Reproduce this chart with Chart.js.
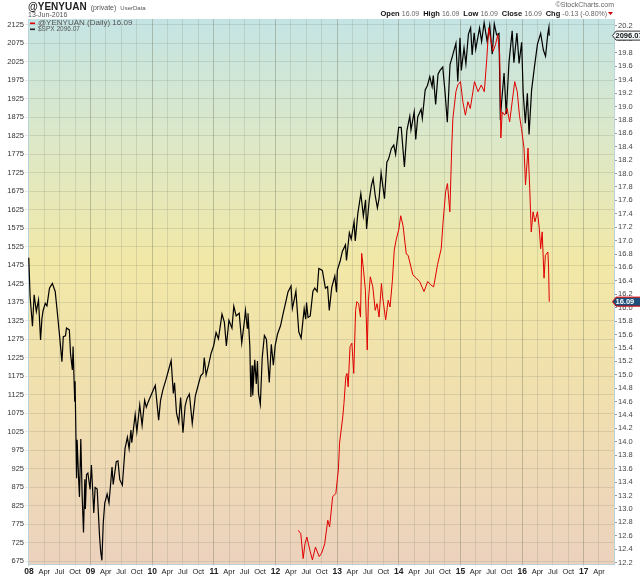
<!DOCTYPE html>
<html><head><meta charset="utf-8">
<script src="https://cdn.jsdelivr.net/npm/chart.js@4.4.0/dist/chart.umd.min.js"></script>
<style>html,body{margin:0;padding:0;background:#fff}canvas{display:block}</style>
</head><body>
<canvas id="c" width="640" height="576"></canvas>
<script>
// ---- DATA ----
const spxDates = [
'2007-12-31','2008-01-08','2008-01-22','2008-02-01','2008-02-14','2008-02-27','2008-03-10','2008-03-18','2008-03-25','2008-04-07','2008-04-17','2008-05-02','2008-05-19','2008-06-05','2008-06-17','2008-07-01','2008-07-15','2008-07-23','2008-08-05','2008-08-11','2008-08-28','2008-09-04','2008-09-15','2008-09-19','2008-09-29','2008-10-01','2008-10-10','2008-10-13','2008-10-22','2008-10-27','2008-11-04','2008-11-12','2008-11-20','2008-11-28','2008-12-01','2008-12-08','2008-12-16','2008-12-29',
'2009-01-06','2009-01-20','2009-01-28','2009-02-09','2009-02-23','2009-03-02','2009-03-09','2009-03-17','2009-03-26','2009-04-09','2009-04-20','2009-05-04','2009-05-08','2009-05-15','2009-06-02','2009-06-12','2009-06-23','2009-07-08','2009-07-24','2009-08-07','2009-08-17','2009-08-28','2009-09-02','2009-09-22','2009-10-02','2009-10-19','2009-11-02','2009-11-17','2009-11-27','2009-12-07','2009-12-28',
'2010-01-19','2010-02-08','2010-02-19','2010-03-05','2010-03-24','2010-04-05','2010-04-23','2010-05-06','2010-05-13','2010-05-25','2010-06-07','2010-06-18','2010-07-02','2010-07-15','2010-07-26','2010-08-09','2010-08-26','2010-09-13','2010-09-28','2010-10-15','2010-10-29','2010-11-05','2010-11-16','2010-12-01','2010-12-15','2010-12-31',
'2011-01-14','2011-01-28','2011-02-18','2011-03-04','2011-03-16','2011-03-31','2011-04-18','2011-04-29','2011-05-13','2011-05-31','2011-06-15','2011-06-30','2011-07-07','2011-07-18','2011-07-22','2011-08-02','2011-08-08','2011-08-15','2011-08-19','2011-08-31','2011-09-09','2011-09-16','2011-09-22','2011-10-03','2011-10-14','2011-10-27','2011-11-08','2011-11-25','2011-12-07','2011-12-19','2011-12-30',
'2012-01-13','2012-01-31','2012-02-15','2012-03-01','2012-03-15','2012-04-02','2012-04-10','2012-04-20','2012-05-01','2012-05-18','2012-06-01','2012-06-19','2012-06-28','2012-07-03','2012-07-12','2012-07-25','2012-08-10','2012-08-21','2012-09-04','2012-09-14','2012-10-05','2012-10-23','2012-11-05','2012-11-15','2012-11-30','2012-12-18','2012-12-28',
'2013-01-02','2013-01-18','2013-02-01','2013-02-19','2013-02-25','2013-03-14','2013-03-25','2013-04-11','2013-04-18','2013-05-03','2013-05-21','2013-06-05','2013-06-18','2013-06-24','2013-07-10','2013-07-23','2013-08-02','2013-08-15','2013-08-27','2013-09-06','2013-09-18','2013-10-08','2013-10-22','2013-11-01','2013-11-18','2013-12-02','2013-12-13','2013-12-31',
'2014-01-15','2014-02-03','2014-02-18','2014-03-07','2014-03-14','2014-04-02','2014-04-11','2014-04-23','2014-05-13','2014-05-20','2014-06-06','2014-06-20','2014-07-03','2014-07-17','2014-07-24','2014-08-07','2014-08-21','2014-09-02','2014-09-18','2014-10-01','2014-10-15','2014-10-31','2014-11-14','2014-12-05','2014-12-16','2014-12-29',
'2015-01-06','2015-01-22','2015-02-02','2015-02-17','2015-03-02','2015-03-11','2015-03-23','2015-04-01','2015-04-24','2015-05-06','2015-05-21','2015-06-08','2015-06-23','2015-07-08','2015-07-20','2015-08-03','2015-08-17','2015-08-25','2015-09-01','2015-09-16','2015-09-29','2015-10-15','2015-11-03','2015-11-13','2015-12-01','2015-12-14','2015-12-29',
'2016-01-07','2016-01-20','2016-02-01','2016-02-11','2016-02-26','2016-03-15','2016-04-01','2016-04-20','2016-05-06','2016-05-19','2016-06-01','2016-06-08','2016-06-10'];
const spxValues = [
1495,1390,1310,1395,1350,1381,1273,1330,1352,1372,1365,1413,1426,1404,1350,1284,1214,1282,1284,1305,1300,1236,1192,1255,1106,1161,899,1003,896,848,1005,852,752,896,816,909,913,869,
935,805,874,870,743,700,677,778,832,856,832,907,929,882,944,946,895,880,979,1010,979,1029,995,1071,1025,1097,1042,1110,1091,1104,1127,
1150,1056,1109,1138,1167,1187,1217,1128,1157,1074,1050,1117,1022,1095,1115,1127,1047,1121,1147,1176,1183,1225,1178,1206,1236,1258,
1293,1276,1343,1321,1257,1326,1305,1364,1338,1345,1265,1321,1353,1305,1345,1254,1119,1204,1123,1219,1154,1216,1129,1099,1224,1285,1275,1158,1261,1205,1258,
1289,1312,1344,1374,1403,1419,1358,1379,1405,1295,1278,1357,1329,1374,1334,1338,1405,1413,1404,1466,1461,1413,1417,1353,1416,1446,1402,
1462,1485,1513,1530,1488,1563,1546,1593,1541,1614,1669,1608,1652,1573,1652,1692,1709,1661,1630,1655,1725,1655,1754,1762,1791,1800,1775,1848,
1848,1741,1840,1878,1841,1890,1815,1876,1897,1872,1949,1962,1985,1958,1988,1910,1992,2002,2011,1946,1862,2018,2040,2075,1972,2090,
2002,2063,2020,2100,2117,2044,2104,2059,2117,2080,2131,2080,2124,2046,2128,2098,2102,1868,1914,1995,1884,2023,2109,2023,2103,2021,2078,
1943,1859,1940,1829,1948,2015,2073,2102,2057,2040,2100,2119,2096.07];

const yyDates = [
'2012-05-15','2012-05-30','2012-06-13','2012-06-24','2012-07-05','2012-07-23','2012-08-07','2012-08-25','2012-09-16','2012-10-01','2012-10-19','2012-11-06','2012-11-17','2012-12-05','2012-12-24',
'2013-01-08','2013-01-15','2013-02-03','2013-02-10','2013-02-21','2013-02-28','2013-03-07','2013-03-18','2013-03-29','2013-04-09','2013-04-20','2013-04-27','2013-05-08','2013-05-19','2013-05-26','2013-06-06','2013-06-17','2013-06-28','2013-07-05','2013-07-16','2013-07-31','2013-08-14','2013-08-25','2013-09-06','2013-09-20','2013-09-27','2013-10-15','2013-10-30','2013-11-10','2013-11-24','2013-12-05','2013-12-16',
'2014-01-01','2014-01-12','2014-01-26','2014-02-14','2014-02-25','2014-03-25','2014-04-15','2014-05-04','2014-05-30','2014-06-21','2014-07-09','2014-07-26','2014-08-18','2014-09-09','2014-09-20','2014-10-05','2014-10-16','2014-10-30','2014-11-10','2014-11-17','2014-12-05','2014-12-16',
'2015-01-01','2015-01-15','2015-01-30','2015-02-14','2015-02-28','2015-03-25','2015-04-15','2015-05-04','2015-05-22','2015-06-06','2015-06-17','2015-07-01','2015-07-13','2015-07-27','2015-08-10','2015-08-21','2015-08-28','2015-09-05','2015-09-20','2015-10-04','2015-10-19','2015-11-03','2015-11-18','2015-12-03','2015-12-16','2015-12-28',
'2016-01-12','2016-01-21','2016-02-05','2016-02-15','2016-02-24','2016-03-06','2016-03-17','2016-04-01','2016-04-12','2016-04-20','2016-04-29','2016-05-10','2016-05-18','2016-06-02','2016-06-06','2016-06-10'];
const yyValues = [
12.68,12.63,12.26,12.48,12.58,12.38,12.24,12.43,12.29,12.34,12.48,12.83,12.73,13.18,13.23,
13.58,13.98,14.37,14.57,14.97,15.02,14.82,15.42,15.47,15.02,15.96,16.09,16.06,15.86,16.81,16.56,16.26,15.37,16.11,16.46,16.31,15.96,16.06,15.86,16.36,16.16,15.82,16.11,16.01,16.41,16.86,17.01,
17.17,17.37,17.22,16.80,16.78,16.49,16.44,16.39,16.24,16.39,16.34,16.31,16.64,16.88,17.28,17.73,17.85,17.43,18.38,18.82,19.22,19.32,
19.37,19.07,18.87,19.07,18.97,19.37,19.22,19.32,19.22,19.72,20.17,19.97,19.82,19.92,20.07,19.77,18.53,18.92,18.87,18.97,18.77,19.07,19.37,19.22,18.87,18.67,
18.38,17.83,18.38,17.78,17.13,17.43,17.28,17.43,17.18,16.88,17.13,16.44,16.78,16.83,16.59,16.09];

const monthLabels = ['', 'Apr', 'Jul', 'Oct'];
const tickYears = [2008,2009,2010,2011,2012,2013,2014,2015,2016,2017];
const headerStats = [['Open','16.09'],['High','16.09'],['Low','16.09'],['Close','16.09'],['Chg','-0.13 (-0.80%)']];

// ---- helpers ----
function toYear(s){
  const d = Date.parse(s+'T00:00:00Z');
  const y = +s.slice(0,4);
  const a = Date.UTC(y,0,1), b = Date.UTC(y+1,0,1);
  return y + (d-a)/(b-a);
}
const X_MIN = 2007.985, X_MAX = 2017.49;
const quarterTicks = [];
tickYears.forEach(y=>{ [1,4,7,10].forEach(m=>{ const v=toYear(y+'-'+String(m).padStart(2,'0')+'-01'); if(v<X_MAX) quarterTicks.push(v); }); });

const FONT = "'Liberation Sans', Arial, sans-serif";

const bgPlugin = {
  id:'bg',
  beforeDraw(chart){
    const {ctx, chartArea:a} = chart;
    ctx.save();
    ctx.fillStyle='#fff'; ctx.fillRect(0,0,chart.width,chart.height);
    const g = ctx.createLinearGradient(0,a.top,0,a.bottom);
    g.addColorStop(0,'rgb(196,228,228)');
    g.addColorStop(0.22,'rgb(220,232,200)');
    g.addColorStop(0.45,'rgb(242,232,166)');
    g.addColorStop(0.72,'rgb(240,222,176)');
    g.addColorStop(1,'rgb(236,210,190)');
    ctx.fillStyle=g; ctx.fillRect(a.left,a.top,a.right-a.left,a.bottom-a.top);
    ctx.restore();
  }
};

const textPlugin = {
  id:'texts',
  afterDraw(chart){
    const {ctx} = chart;
    ctx.save();
    ctx.textBaseline='alphabetic';
    // title
    ctx.fillStyle='#222'; ctx.font='bold 10px '+FONT; ctx.textAlign='left';
    ctx.fillText('@YENYUAN', 28, 10);
    let w = ctx.measureText('@YENYUAN').width;
    ctx.fillStyle='#555'; ctx.font='7px '+FONT;
    ctx.fillText('(private)', 28+w+4, 10);
    let w2 = ctx.measureText('(private)').width;
    ctx.font='6px '+FONT; ctx.fillText('UserData', 28+w+4+w2+4, 10);
    ctx.font='7px '+FONT; ctx.fillStyle='#555';
    ctx.fillText('13-Jun-2016', 28, 17);
    // StockCharts
    ctx.textAlign='right'; ctx.fillStyle='#666'; ctx.font='7px '+FONT;
    ctx.fillText('\u00A9StockCharts.com', 614, 7);
    // stats line
    const parts=[];
    headerStats.forEach(([k,v])=>{ parts.push(['bold 7.5px '+FONT,'#111',k+' ']); parts.push(['7px '+FONT,'#666',v+'  ']); });
    let total=0; parts.forEach(p=>{ctx.font=p[0]; total+=ctx.measureText(p[2]).width;});
    let x = 611-total; ctx.textAlign='left';
    parts.forEach(p=>{ctx.font=p[0]; ctx.fillStyle=p[1]; ctx.fillText(p[2],x,16); x+=ctx.measureText(p[2]).width;});
    ctx.fillStyle='#c00'; ctx.beginPath(); ctx.moveTo(x-3,12); ctx.lineTo(x+2,12); ctx.lineTo(x-0.5,15); ctx.closePath(); ctx.fill();
    // legend
    ctx.fillStyle='#e00000'; ctx.fillRect(30,22.5,5,1.6);
    ctx.fillStyle='#555'; ctx.font='8px '+FONT;
    ctx.fillText('@YENYUAN (Daily) '+yyValues[yyValues.length-1].toFixed(2), 38, 25);
    ctx.fillStyle='#222'; ctx.fillRect(30,28.5,5,1.6);
    ctx.fillStyle='#555'; ctx.font='6.5px '+FONT;
    ctx.fillText('$SPX '+spxValues[spxValues.length-1].toFixed(2), 38, 31);
    // price tags
    function tag(yPix, label, border, fill, color){
      ctx.beginPath();
      ctx.moveTo(612.5,yPix); ctx.lineTo(616,yPix-4.5); ctx.lineTo(641,yPix-4.5); ctx.lineTo(641,yPix+4.5); ctx.lineTo(616,yPix+4.5); ctx.closePath();
      ctx.fillStyle=fill; ctx.fill(); ctx.strokeStyle=border; ctx.lineWidth=1; ctx.stroke();
      ctx.fillStyle=color; ctx.font='bold 7.5px '+FONT; ctx.textAlign='left';
      ctx.fillText(label, 615.5, yPix+2.8);
    }
    const ys = chart.scales.y.getPixelForValue(spxValues[spxValues.length-1]);
    tag(ys, spxValues[spxValues.length-1].toFixed(2), '#333', '#f4f8fa', '#111');
    const yr = chart.scales.y2.getPixelForValue(yyValues[yyValues.length-1]);
    tag(yr, yyValues[yyValues.length-1].toFixed(2), '#e00000', '#1d4f7a', '#fff');
    ctx.restore();
  }
};

const gridCol = 'rgba(120,125,105,0.2)';
new Chart(document.getElementById('c'), {
  type:'line',
  data:{ datasets:[
    { label:'@YENYUAN', data: yyDates.map((d,i)=>({x:toYear(d), y:yyValues[i]})), yAxisID:'y2',
      borderColor:'#e00000', borderWidth:1, pointRadius:0, tension:0, fill:false },
    { label:'$SPX', data: spxDates.map((d,i)=>({x:toYear(d), y:spxValues[i]})), yAxisID:'y',
      borderColor:'#000', borderWidth:1.2, pointRadius:0, tension:0, fill:false }
  ]},
  options:{
    responsive:false, animation:false, devicePixelRatio:1,
    layout:{padding:{top:19,left:0,right:0,bottom:0}},
    plugins:{legend:{display:false}, tooltip:{enabled:false}},
    scales:{
      x:{ type:'linear', position:'bottom', min:X_MIN, max:X_MAX,
        afterBuildTicks(s){ s.ticks = quarterTicks.map(v=>({value:v})); },
        afterFit(s){ s.height = 12; },
        ticks:{ autoSkip:false, maxRotation:0, padding:1, color:'#222',
          font:(c)=>{ const v=c.tick?c.tick.value:0; const isY=Math.abs(v-Math.round(v))<1e-6; return {family:FONT, size:isY?8.5:7.5, weight:isY?'bold':'normal'}; },
          callback:(v)=>{ const y=Math.floor(v+1e-6); const q=Math.round((v-y)*4); if(q===0) return String(y).slice(2); return monthLabels[q]; } },
        grid:{ color:(c)=>{ const v=c.tick?c.tick.value:0; return Math.abs(v-Math.round(v))<1e-6 ? 'rgba(110,115,90,0.38)' : gridCol; }, tickLength:2, lineWidth:1 },
        border:{ display:true, color:'#b9d3dc' }
      },
      y:{ type:'linear', position:'left', min:667, max:2141,
        afterBuildTicks(s){ const t=[]; for(let v=675; v<=2125; v+=25) t.push({value:v}); s.ticks=t; },
        afterFit(s){ s.width = 28; },
        ticks:{ padding:1, color:'#333', font:{family:FONT, size:7.5}, callback:(v)=>String(v) },
        grid:{ color:gridCol, tickLength:3 },
        border:{ display:true, color:'#b9d3dc' }
      },
      y2:{ type:'linear', position:'right', min:12.178, max:20.304,
        afterBuildTicks(s){ const t=[]; for(let i=0;i<=40;i++) t.push({value:Math.round((12.2+i*0.2)*10)/10}); s.ticks=t; },
        afterFit(s){ s.width = 26; },
        ticks:{ padding:1, color:'#444', font:{family:FONT, size:7.5}, callback:(v)=>Number(v).toFixed(1) },
        grid:{ drawOnChartArea:false, color:'#999', tickLength:3 },
        border:{ display:true, color:'#b9d3dc' }
      }
    }
  },
  plugins:[bgPlugin, textPlugin]
});
</script>
</body></html>
